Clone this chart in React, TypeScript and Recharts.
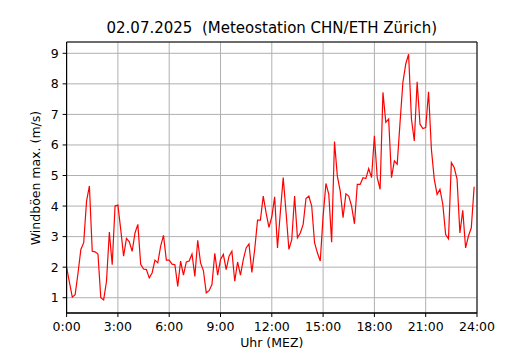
import React from 'react';
import {
  LineChart, Line, XAxis, YAxis, CartesianGrid, ReferenceArea,
} from 'recharts';

// Windböen max. (m/s), 10-Minuten-Werte 0:00 .. 23:50
const gusts = [
  2.0, 1.5, 1.02, 1.1, 1.8, 2.58, 2.8, 4.16, 4.66, 2.52, 2.5, 2.43,
  1.0, 0.93, 1.54, 3.15, 2.08, 4.0, 4.03, 3.23, 2.36, 2.94, 2.83, 2.52,
  3.12, 3.4, 2.09, 1.94, 1.92, 1.65, 1.81, 2.23, 2.14, 2.69, 3.04, 2.23,
  2.23, 2.1, 2.08, 1.37, 2.2, 1.74, 2.17, 2.2, 2.43, 1.7, 2.88, 2.14,
  1.89, 1.16, 1.23, 1.43, 2.45, 1.74, 2.25, 2.42, 1.92, 2.36, 2.52, 1.54,
  2.17, 1.74, 2.25, 2.63, 2.76, 1.83, 2.58, 3.54, 3.54, 4.33, 3.78, 3.3,
  3.65, 4.3, 2.63, 3.8, 4.93, 3.8, 2.58, 2.9, 4.33, 2.96, 3.12, 3.4,
  4.25, 4.33, 4.0, 2.8, 2.47, 2.2, 3.67, 4.74, 4.38, 2.82, 6.11, 4.98,
  4.5, 3.62, 4.4, 4.33, 4.0, 3.42, 4.71, 4.71, 4.93, 4.9, 5.23, 4.93,
  6.3, 4.93, 4.55, 7.72, 6.74, 6.85, 4.93, 5.48, 5.37, 6.74, 8.05, 8.65,
  8.97, 6.85, 6.13, 8.07, 6.68, 6.54, 6.57, 7.74, 5.86, 4.88, 4.38, 4.55,
  4.06, 3.07, 2.93, 5.42, 5.26, 4.88, 3.12, 3.86, 2.63, 3.02, 3.29, 4.63,
];
const stepMinutes = 10;

const xTicks = [0, 180, 360, 540, 720, 900, 1080, 1260, 1440];
const yTicks = [1, 2, 3, 4, 5, 6, 7, 8, 9];
const xDomain = [0, 1440];
const yDomain = [0.5, 9.37];

const title = '02.07.2025  (Meteostation CHN/ETH Zürich)';
const xLabel = 'Uhr (MEZ)';
const yLabel = 'Windböen max. (m/s)';

const data = gusts.map((v, i) => ({ t: i * stepMinutes, v }));

const FONT = '"DejaVu Sans", sans-serif';
const tickStyle = { fill: '#000', fontSize: 12.5, fontFamily: FONT };

function fmtHour(m: number): string {
  return `${Math.round(m / 60)}:00`;
}

export default function App() {
  return (
    <div style={{ position: 'absolute', left: 0, top: 0, width: 530, height: 350, background: '#fff', fontFamily: FONT }}>
      <div style={{
        position: 'absolute', left: 66.6, width: 410.4, top: 19, textAlign: 'center',
        fontSize: 15, lineHeight: '18px', whiteSpace: 'pre', color: '#000',
      }}>{title}</div>
      <div style={{
        position: 'absolute', left: 66.6, width: 410.4, top: 336, textAlign: 'center',
        fontSize: 12.5, lineHeight: '13px', color: '#000',
      }}>{xLabel}</div>
      <div style={{
        position: 'absolute', left: 35, top: 177.5, width: 0, height: 0,
      }}>
        <div style={{
          position: 'absolute', transform: 'translate(-50%, -50%) rotate(-90deg)',
          fontSize: 12.5, whiteSpace: 'nowrap', color: '#000',
        }}>{yLabel}</div>
      </div>
      <LineChart width={530} height={350} data={data} margin={{ top: 42, right: 53, bottom: 7, left: 6.6 }}>
        <CartesianGrid stroke="#b0b0b0" strokeWidth={1} />
        <XAxis
          dataKey="t"
          type="number"
          domain={xDomain}
          ticks={xTicks}
          tickFormatter={fmtHour}
          tick={tickStyle}
          tickSize={4}
          tickMargin={5}
          height={30}
          stroke="#000"
          allowDataOverflow
        />
        <YAxis
          type="number"
          domain={yDomain}
          ticks={yTicks}
          tick={tickStyle}
          tickSize={4}
          tickMargin={4}
          width={60}
          stroke="#000"
          allowDataOverflow
        />
        <ReferenceArea x1={0} x2={1440} y1={0.5} y2={9.37} fill="none" stroke="#000" strokeWidth={1} ifOverflow="visible" />
        <Line
          dataKey="v"
          stroke="#ff0000"
          strokeWidth={1.2}
          dot={false}
          isAnimationActive={false}
        />
      </LineChart>
    </div>
  );
}
